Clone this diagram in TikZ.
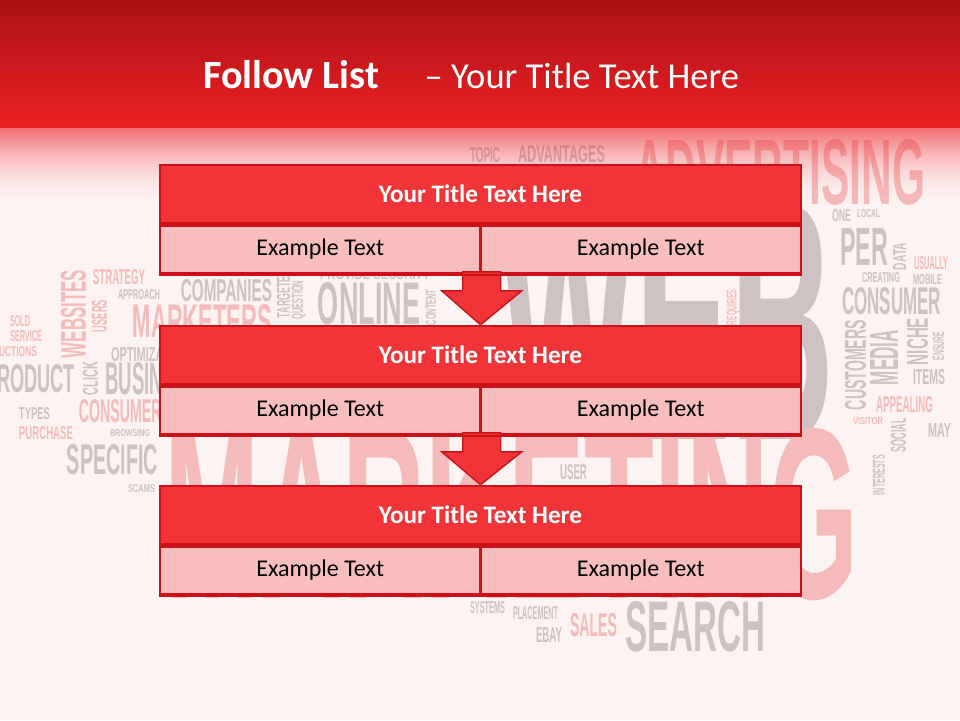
\documentclass[tikz,border=0pt]{standalone}
\usepackage{fontspec,graphicx}
\setmainfont{Carlito}
\newfontfamily\cloudfont{Liberation Sans}
\usetikzlibrary{calc}
\definecolor{hdrtop}{RGB}{170,18,22}
\definecolor{hdrred}{RGB}{236,32,36}
\definecolor{pagebg}{RGB}{253,243,243}
\definecolor{ttlred}{RGB}{240,52,56}
\definecolor{boxline}{RGB}{204,18,24}
\definecolor{expink}{RGB}{248,190,190}
\definecolor{cg}{RGB}{206,194,194}
\definecolor{cp}{RGB}{245,186,186}

\begin{document}
\begin{tikzpicture}[
    x=0.25mm, y=-0.25mm,
    hdr/.style={text=white, font=\fontsize{26}{30}\selectfont, inner sep=0pt},
    ttlbox/.style={rectangle, draw=boxline, fill=ttlred, line width=1.8pt,
      minimum width=160.25mm, minimum height=14.5mm, inner sep=0pt,
      text=white, font=\fontsize{17.9}{21}\selectfont\bfseries},
    exbox/.style={rectangle, draw=boxline, fill=expink, line width=1.8pt,
      minimum width=80.125mm, minimum height=12mm, inner sep=0pt,
      font=\fontsize{17.1}{20}\selectfont},
    downarrow/.style={fill=ttlred, draw=boxline, line width=1pt, line join=miter},
    cloud/.style={inner sep=0pt, font=\cloudfont\bfseries},
  ]
  \useasboundingbox (0,0) rectangle (960,720);
  \fill[pagebg] (0,0) rectangle (960,720);

  %% word cloud behind everything
  \foreach \cx/\cy/\wlen/\wthk/\wrot/\wcol/\wtxt [count=\n] in {
      485/155.5/30/15/0/cg/TOPIC, 561.5/154.5/87/17/0/cg/ADVANTAGES,
      780/172.5/290/65/0/cp/ADVERTISING, 667/322/335/235/0/cg/WEB,
      511.5/515/693/170/0/cp/MARKETING, 695/627/140/50/0/cg/SEARCH,
      593.5/625.5/47/23/0/cp/SALES, 549/634.5/26/15/0/cg/EBAY,
      535.5/613.5/45/13/0/cg/PLACEMENT, 487.5/608/35/12/0/cg/SYSTEMS,
      573.5/472.5/27/15/0/cg/USER, 112.5/460/91/30/0/cg/SPECIFIC,
      141.5/489/27/8/0/cg/SCAMS, 130/433.5/40/7/0/cg/BROWSING,
      46/433.5/54/13/0/cp/PURCHASE, 34.5/414/31/12/0/cg/TYPES,
      125/411.5/92/23/0/cp/CONSUMERS, 30/379/90/28/0/cg/PRODUCT,
      90.5/378.5/33/15/90/cg/CLICK, 153/379/95/32/0/cg/BUSINESS,
      150/355/78/14/0/cg/OPTIMIZATION, 15/352/44/10/0/cp/AUCTIONS,
      26/336.5/32/11/0/cp/SERVICE, 20/321.5/20/11/0/cp/SOLD,
      73.5/314/88/25/90/cp/WEBSITES, 99.5/316/32/15/90/cp/USERS,
      119/277.5/52/15/0/cp/STRATEGY, 139/295/42/10/0/cg/APPROACH,
      226.5/291/91/22/0/cg/COMPANIES, 202.5/321.5/139/33/0/cp/MARKETERS,
      283.5/294/48/13/90/cg/TARGETED, 299/300/38/11/90/cg/QUESTION,
      369/304/102/42/0/cg/ONLINE, 375/275/110/10/0/cg/PROVIDE SECURITY,
      431/307.5/35/10/90/cg/CONTENT, 733/307.5/35/10/90/cp/REQUIRES,
      841.5/216/19/12/0/cg/ONE, 868.5/214/23/8/0/cg/LOCAL,
      864/246.5/48/37/0/cg/PER, 899.5/256.5/27/13/90/cg/DATA,
      931/263.5/34/13/0/cp/USUALLY, 881/278/38/10/0/cg/CREATING,
      927.5/280/29/10/0/cg/MOBILE, 891.5/301.5/99/27/0/cg/CONSUMER,
      855.5/365/90/21/90/cg/CUSTOMERS, 884/357.5/55/28/90/cg/MEDIA,
      917.5/341.5/47/21/90/cg/NICHE, 938.5/346/28/11/90/cg/ENSURE,
      929/377.5/32/15/0/cg/ITEMS, 904.5/405/57/16/0/cp/APPEALING,
      868/421.5/30/7/0/cp/VISITOR, 898.5/435/34/15/90/cg/SOCIAL,
      939.5/430/23/14/0/cg/MAY, 879/475/40/12/90/cg/INTERESTS} {
    \pgfmathsetlengthmacro\wl{\wlen*0.25mm}
    \pgfmathsetlengthmacro\wh{\wthk*0.25mm}
    \node[cloud, text=\wcol, rotate=\wrot] (cw\n) at (\cx,\cy) {\resizebox{\wl}{\wh}{\wtxt}};
  }

  %% red title band, then its fade into the page
  \shade[top color=hdrtop, bottom color=hdrred] (0,0) rectangle (960,127);
  \foreach \i in {0,...,39} {
    \pgfmathsetmacro\op{0.65*(1-\i/40)^2}
    \fill[hdrred, opacity=\op] (0,{127+2*\i}) rectangle (960,{129.2+2*\i});
  }
  \node[hdr, anchor=base west] (head) at (203,88)
    {{\fontsize{28.5}{33}\selectfont\bfseries Follow List}\hspace{1.25em}– Your Title Text Here};

  %% the three steps
  \foreach \k/\yc in {1/194, 2/355, 3/515} {
    \node[ttlbox] (t\k) at (480.5,\yc) {Your Title Text Here};
    \node[exbox, anchor=north west] (l\k) at (t\k.south west) {Example Text};
    \node[exbox, anchor=north east] (r\k) at (t\k.south east) {Example Text};
  }

  %% block arrows between the steps
  \foreach \a/\b in {1/2, 2/3} {
    \draw[downarrow] ($(l\a.south east)+(-19,-3)$) -- ++(0,19) -- ++(-21,0)
      -- (t\b.north) -- ($(l\a.south east)+(40,16)$) -- ++(-21,0) -- ++(0,-19) -- cycle;
  }
  % redraw the step boxes on top of the arrow shafts
  \foreach \k in {1,2,3} {
    \draw[boxline, line width=1.8pt] (l\k.south west) -- (r\k.south east);
  }
\end{tikzpicture}
\end{document}
